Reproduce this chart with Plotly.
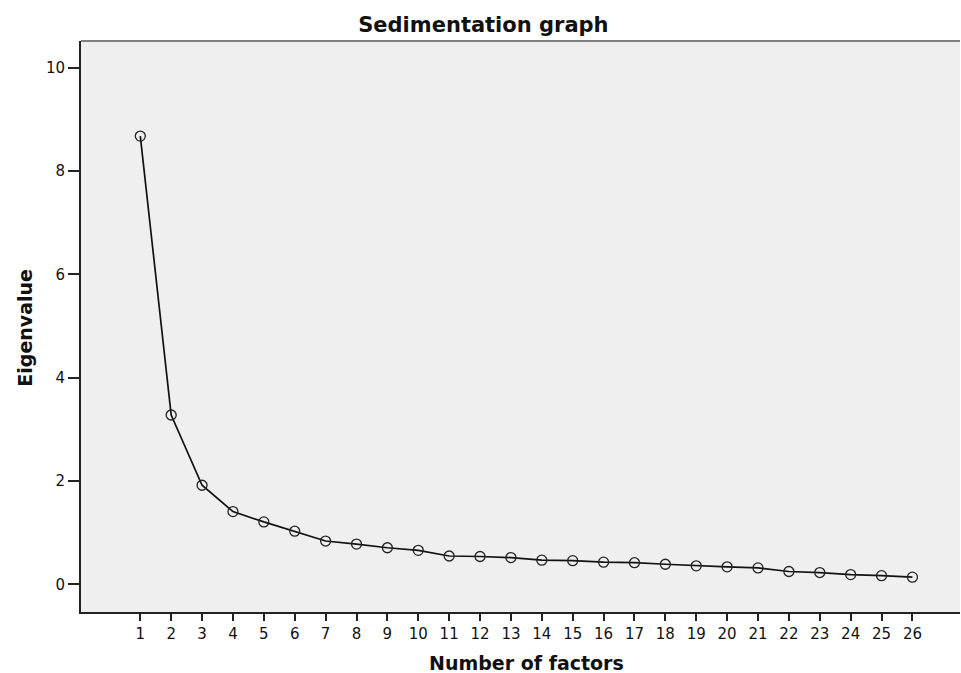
import plotly.graph_objects as go

factors = list(range(1, 27))
eigenvalues = [8.68, 3.28, 1.92, 1.41, 1.21, 1.03, 0.84, 0.78, 0.71, 0.66,
               0.55, 0.54, 0.52, 0.47, 0.46, 0.43, 0.42, 0.39, 0.36, 0.34,
               0.32, 0.25, 0.23, 0.19, 0.17, 0.14]
y_ticks = [0, 2, 4, 6, 8, 10]
title_text = "Sedimentation graph"
x_title = "Number of factors"
y_title = "Eigenvalue"

FONT = "DejaVu Sans"

fig = go.Figure()
fig.add_trace(go.Scatter(
    x=factors, y=eigenvalues, mode="lines+markers",
    line=dict(color="#111111", width=1.7),
    marker=dict(symbol="circle-open", size=10, color="#222222",
                line=dict(width=1.3, color="#222222")),
    showlegend=False, hoverinfo="x+y",
))

fig.update_layout(
    width=961, height=673,
    margin=dict(l=81, r=1, t=41, b=61),
    paper_bgcolor="white",
    plot_bgcolor="#efefef",
    font=dict(family=FONT, size=15, color="#111111"),
    title=dict(text="<b>" + title_text + "</b>", xref="container", yref="container",
               x=0.503, y=1 - 25 / 673, xanchor="center", yanchor="middle",
               font=dict(family=FONT, size=21, color="#111111")),
    xaxis=dict(range=[-0.92, 27.54], tickvals=factors, ticktext=[str(f) for f in factors],
               showgrid=False, zeroline=False, showline=True, linecolor="#222222",
               linewidth=2, ticks="outside", ticklen=7, tickwidth=2, tickcolor="#222222",
               tickfont=dict(family=FONT, size=15, color="#111111")),
    yaxis=dict(range=[-0.534, 10.52], tickvals=y_ticks, ticktext=[str(v) for v in y_ticks],
               showgrid=False, zeroline=False, showline=True, linecolor="#222222",
               linewidth=2, ticks="outside", ticklen=11, tickwidth=2, tickcolor="#222222",
               tickfont=dict(family=FONT, size=15, color="#111111")),
    shapes=[dict(type="line", xref="paper", yref="paper", x0=0, x1=1, y0=1, y1=1,
                 line=dict(color="#808080", width=2))],
    annotations=[
        dict(text="<b>" + x_title + "</b>", xref="paper", yref="paper",
             x=0.507, y=-0.0887, xanchor="center", yanchor="middle", showarrow=False,
             font=dict(family=FONT, size=19, color="#111111")),
        dict(text="<b>" + y_title + "</b>", xref="paper", yref="paper",
             x=-0.0637, y=0.498, xanchor="center", yanchor="middle", showarrow=False,
             textangle=-90, font=dict(family=FONT, size=19, color="#111111")),
    ],
)

fig.write_html(
    "out.html",
    config={"displayModeBar": False},
    post_script="document.body.style.margin='0';document.body.style.padding='0';"
                "document.body.style.overflow='hidden';",
)
